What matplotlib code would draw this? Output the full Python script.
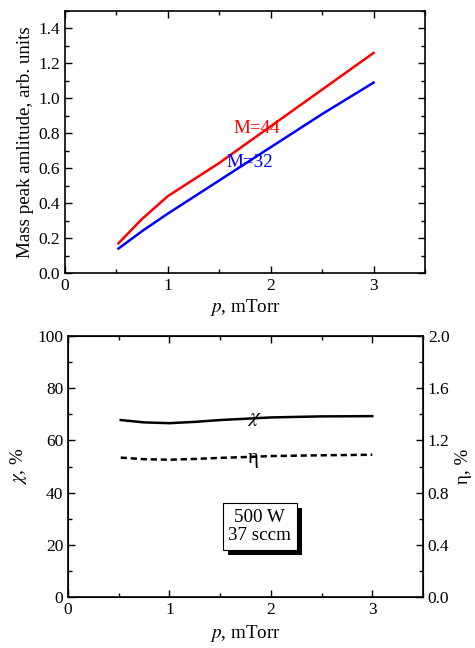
import matplotlib
matplotlib.use("Agg")
import matplotlib.pyplot as plt
import matplotlib.patheffects as pe
from matplotlib.ticker import MultipleLocator

plt.rcParams['font.family'] = ['Liberation Serif', 'DejaVu Serif']
plt.rcParams['mathtext.fontset'] = 'stix'

# top panel: mass peak amplitudes
p_mass = [0.52, 0.75, 1.0, 1.5, 2.0, 2.5, 3.0]
m44 = [0.17, 0.31, 0.44, 0.63, 0.84, 1.05, 1.26]
m32 = [0.14, 0.24, 0.34, 0.53, 0.72, 0.91, 1.09]

# bottom panel: chi (left axis) and eta (right axis)
p_eff = [0.52, 0.75, 1.0, 1.25, 1.5, 1.8, 2.0, 2.5, 3.0]
chi = [67.8, 66.9, 66.6, 67.1, 67.8, 68.4, 68.8, 69.2, 69.3]
eta = [1.068, 1.056, 1.052, 1.058, 1.066, 1.074, 1.080, 1.086, 1.090]

TICK_FS = 12.5
LABEL_FS = 13.7


def style_axis(ax, right=True):
    ax.tick_params(which='both', direction='in', top=True, right=right,
                   labelsize=TICK_FS, width=1.0)
    ax.tick_params(which='major', length=5)
    ax.tick_params(which='minor', length=3)
    for s in ax.spines.values():
        s.set_linewidth(1.2)


fig = plt.figure(figsize=(4.75, 6.48), dpi=100)

ax1 = fig.add_axes([65 / 475, 1 - 273 / 648, 360 / 475, 262 / 648])
ax1.plot(p_mass, m44, color='#ff0000', lw=1.8)
ax1.plot(p_mass, m32, color='#0000ff', lw=1.8)
ax1.set_xlim(0, 3.5)
ax1.set_ylim(0, 1.5)
ax1.xaxis.set_major_locator(MultipleLocator(1))
ax1.xaxis.set_minor_locator(MultipleLocator(0.5))
ax1.yaxis.set_minor_locator(MultipleLocator(0.1))
ax1.set_yticks([0, 0.2, 0.4, 0.6, 0.8, 1.0, 1.2, 1.4])
ax1.set_yticklabels(['0.0', '0.2', '0.4', '0.6', '0.8', '1.0', '1.2', '1.4'])
style_axis(ax1)
ax1.text(1.86, 0.83, 'M=44', color='#ff0000', fontsize=LABEL_FS, ha='center', va='center')
ax1.text(1.80, 0.63, 'M=32', color='#0000ff', fontsize=LABEL_FS, ha='center', va='center')
ax1.set_xlabel('$p$, mTorr', fontsize=LABEL_FS, labelpad=2)
ax1.set_ylabel('Mass peak amlitude, arb. units', fontsize=LABEL_FS, labelpad=3)

ax2 = fig.add_axes([68 / 475, 1 - 597 / 648, 355 / 475, 261 / 648])
ax2.plot(p_eff, chi, color='black', lw=1.8)
ax2.set_xlim(0, 3.5)
ax2.set_ylim(0, 100)
ax2.xaxis.set_major_locator(MultipleLocator(1))
ax2.xaxis.set_minor_locator(MultipleLocator(0.5))
ax2.yaxis.set_major_locator(MultipleLocator(20))
ax2.yaxis.set_minor_locator(MultipleLocator(10))
style_axis(ax2, right=False)
ax2.set_xlabel('$p$, mTorr', fontsize=LABEL_FS, labelpad=4)
ax2.set_ylabel('$\\chi$, %', fontsize=LABEL_FS, labelpad=6)

ax3 = ax2.twinx()
ax3.plot(p_eff, eta, color='black', lw=1.8, ls=(0, (2.5, 1.5)))
ax3.set_ylim(0, 2.0)
ax3.yaxis.set_minor_locator(MultipleLocator(0.2))
ax3.set_yticks([0, 0.4, 0.8, 1.2, 1.6, 2.0])
ax3.set_yticklabels(['0.0', '0.4', '0.8', '1.2', '1.6', '2.0'])
ax3.tick_params(which='both', direction='in', labelsize=TICK_FS, width=1.0)
ax3.tick_params(which='major', length=5)
ax3.tick_params(which='minor', length=3)
ax3.set_ylabel('η, %', fontsize=LABEL_FS, rotation=90, labelpad=4)

ax3.text(1.84, 1.37, '$\\chi$', fontsize=15, ha='center', va='center')
ax3.text(1.83, 1.06, 'η', fontsize=15, ha='center', va='center')

# annotation box with drop shadow
note = ax3.text(1.89, 0.54, '500 W\n37 sccm', fontsize=LABEL_FS, ha='center',
                va='center', linespacing=1.05,
                bbox=dict(boxstyle='square,pad=0.3', fc='white', ec='black', lw=0.8))
note.get_bbox_patch().set_path_effects(
    [pe.SimplePatchShadow(offset=(3.6, -3.6), shadow_rgbFace='black', alpha=1.0),
     pe.Normal()])

fig.savefig('out.png', dpi=100)
